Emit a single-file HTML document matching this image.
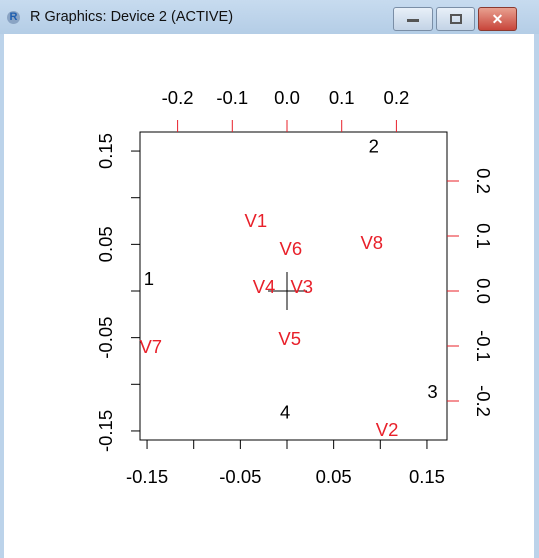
<!DOCTYPE html>
<html><head><meta charset="utf-8"><style>
body{margin:0;width:539px;height:558px;overflow:hidden;background:#fff;font-family:"Liberation Sans",sans-serif}
#title{position:absolute;left:0;top:0;width:539px;height:34px;background:linear-gradient(#c7dbef,#b4cde6)}
#lb{position:absolute;left:0;top:34px;width:4px;height:524px;background:#bcd3ea}
#rb{position:absolute;right:0;top:34px;width:5px;height:524px;background:#bcd3ea}
.btn{position:absolute;top:7px;height:22px;border:1px solid #7a8ea6;border-radius:3px;background:linear-gradient(#e8f0f8,#c3d3e6)}
</style></head><body>
<div id="title">
<div style="position:absolute;left:7px;top:11px;width:13px;height:13px;border-radius:50%;background:#8aa4c4;color:#1f5fb0;font:bold 11px 'Liberation Sans',sans-serif;text-align:center;line-height:13px">R</div>
<div style="position:absolute;left:30px;top:9px;font-size:14.5px;color:#111">R Graphics: Device 2 (ACTIVE)</div>
<div class="btn" style="left:393px;width:38px"><div style="margin:11px auto 0;width:12px;height:3px;background:#555"></div></div>
<div class="btn" style="left:436px;width:37px"><div style="margin:6px auto 0;width:8px;height:6px;border:2px solid #555"></div></div>
<div class="btn" style="left:478px;width:37px;background:linear-gradient(#e8a090,#c8453a);border-color:#8a3a30;color:#fff;text-align:center;font:bold 14px 'Liberation Sans',sans-serif;line-height:22px">✕</div>
</div>
<div id="lb"></div><div id="rb"></div>
<svg id="chart" width="539" height="558" style="position:absolute;left:0;top:0"></svg>
<script>
const obsLabels=["1","2","3","4"];
const obsX=[-0.148,0.093,0.156,-0.002];
const obsY=[0.014,0.156,-0.107,-0.129];
const varLabels=["V1","V2","V3","V4","V5","V6","V7","V8"];
const varX=[-0.057,0.183,0.027,-0.042,0.005,0.007,-0.249,0.155];
const varY=[0.129,-0.251,0.009,0.009,-0.085,0.078,-0.1,0.089];
const bottomTicks=[-0.15,-0.10,-0.05,0,0.05,0.10,0.15];
const bottomLabels=["-0.15","","-0.05","","0.05","","0.15"];
const leftTicks=[-0.15,-0.10,-0.05,0,0.05,0.10,0.15];
const leftLabels=["-0.15","","-0.05","","0.05","","0.15"];
const topTicks=[-0.2,-0.1,0,0.1,0.2];
const topLabels=["-0.2","-0.1","0.0","0.1","0.2"];
const rightTicks=[-0.2,-0.1,0,0.1,0.2];
const rightLabels=["-0.2","-0.1","0.0","0.1","0.2"];

const sx=v=>287+v*933; const sy=v=>291-v*933;
const tx=v=>287+v*547; const ty=v=>291-v*550;
const svg=document.getElementById('chart');const NS="http://www.w3.org/2000/svg";
function mk(t,a,txt){const e=document.createElementNS(NS,t);for(const k in a)e.setAttribute(k,a[k]);if(txt!==undefined)e.textContent=txt;svg.appendChild(e);return e;}
const box=mk('rect',{x:140,y:132,width:307,height:308,fill:'none',stroke:'#000','stroke-width':1});

bottomTicks.forEach((v,i)=>{const l=mk('line',{x1:sx(v),x2:sx(v),y1:440,y2:449,stroke:'#000'});

if(bottomLabels[i]){const t=mk('text',{x:sx(v),y:483,'text-anchor':'middle','font-size':18.5,fill:'#000'},bottomLabels[i]);
}});
leftTicks.forEach((v,i)=>{const l=mk('line',{x1:131,x2:140,y1:sy(v),y2:sy(v),stroke:'#000'});

if(leftLabels[i]){const t=mk('text',{x:0,y:0,transform:`translate(112,${sy(v)}) rotate(-90)`,'text-anchor':'middle','font-size':18.5,fill:'#000'},leftLabels[i]);
}});
topTicks.forEach((v,i)=>{const l=mk('line',{x1:tx(v),x2:tx(v),y1:120,y2:132,stroke:'#e8202a'});

const t=mk('text',{x:tx(v),y:104,'text-anchor':'middle','font-size':18.5,fill:'#000'},topLabels[i]);
});
rightTicks.forEach((v,i)=>{const l=mk('line',{x1:447,x2:459,y1:ty(v),y2:ty(v),stroke:'#e8202a'});

const t=mk('text',{x:0,y:0,transform:`translate(477,${ty(v)}) rotate(90)`,'text-anchor':'middle','font-size':18.5,fill:'#000'},rightLabels[i]);
});
const h=mk('line',{x1:268,x2:307,y1:291,y2:291,stroke:'#000'});
const vv=mk('line',{x1:287,x2:287,y1:272,y2:310,stroke:'#000'});
obsLabels.forEach((s,i)=>{const t=mk('text',{x:sx(obsX[i]),y:sy(obsY[i])+7,'text-anchor':'middle','font-size':18.5,fill:'#000'},s);
});
varLabels.forEach((s,i)=>{const t=mk('text',{x:tx(varX[i]),y:ty(varY[i])+7,'text-anchor':'middle','font-size':18.5,fill:'#e8202a'},s);
});
</script>
</body></html>
